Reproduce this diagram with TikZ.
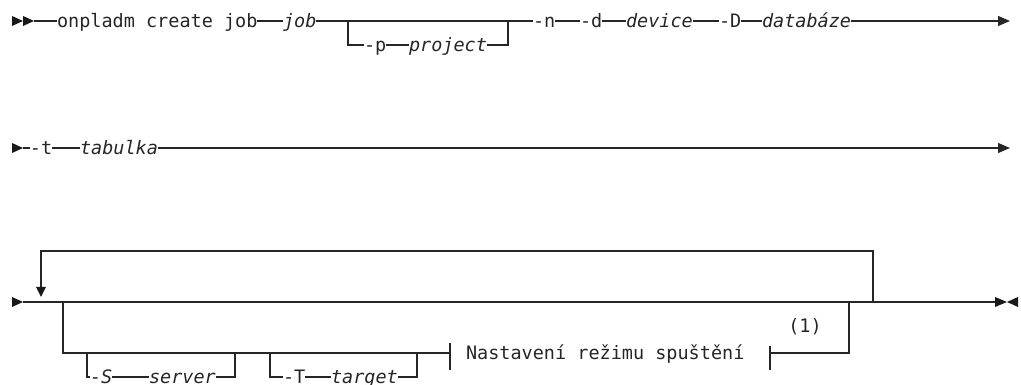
\documentclass[tikz,border=0pt]{standalone}
\usepackage{fontspec}
\newfontfamily\dm{DejaVu Sans Mono}
\usetikzlibrary{arrows.meta}
\tikzset{
  lbl/.style={inner sep=0pt, outer sep=0pt, anchor=west, text height=13pt, text depth=0pt, font=\dm\fontsize{18.5}{22}\selectfont, text=black!85},
  var/.style={lbl, font=\dm\fontsize{18.5}{22}\selectfont\itshape},
  ln/.style={line width=1.1pt, draw=black!85},
  mk/.style={fill=black!90},
  tip/.style={-{Triangle[length=12pt,width=10pt]}}
}
\begin{document}
\begin{tikzpicture}[x=1pt,y=1pt]
\useasboundingbox (0,0) rectangle (1021,385);
% ---------- row 1 ----------
\fill[mk] (12,369)--(23,364)--(12,359)--cycle;
\fill[mk] (23,369)--(34,364)--(23,359)--cycle;
\coordinate (s1) at (34,364);
\node[lbl] (cmd) at (57,364) {onpladm create job};
\node[var] (job) at (283,364) {job};
\coordinate (b1l) at (348,364);
\coordinate (b1r) at (508,364);
\coordinate (b1ld) at (348,340);
\coordinate (b1rd) at (508,340);
\node[lbl] (p) at (364,340) {-p};
\node[var] (proj) at (409,340) {project};
\node[lbl] (n) at (533,364) {-n};
\node[lbl] (d) at (580,364) {-d};
\node[var] (dev) at (626,364) {device};
\node[lbl] (D) at (719,364) {-D};
\node[var] (db) at (762,364) {databáze};
\coordinate (e1) at (1010,364);
\draw[ln] (s1) -- (cmd.west);
\draw[ln] (cmd.east) -- (job.west);
\draw[ln] (job.east) -- (b1l) -- (b1r) -- (n.west);
\draw[ln] (b1l) -- (b1ld) -- (p.west);
\draw[ln] (p.east) -- (proj.west);
\draw[ln] (proj.east) -- (b1rd) -- (b1r);
\draw[ln] (n.east) -- (d.west);
\draw[ln] (d.east) -- (dev.west);
\draw[ln] (dev.east) -- (D.west);
\draw[ln] (D.east) -- (db.west);
\draw[ln,tip] (db.east) -- (e1);
% ---------- row 2 ----------
\fill[mk] (12,242)--(23,237)--(12,232)--cycle;
\coordinate (s2) at (23,237);
\node[lbl] (t) at (30,237) {-t};
\node[var] (tab) at (80,237) {tabulka};
\coordinate (e2) at (1010,237);
\draw[ln] (s2) -- (t.west);
\draw[ln] (t.east) -- (tab.west);
\draw[ln,tip] (tab.east) -- (e2);
% ---------- row 3 ----------
\fill[mk] (12,88)--(23,83)--(12,78)--cycle;
\coordinate (s3) at (23,83);
\coordinate (lpR) at (873,83);
\coordinate (lpLt) at (41,134);
\coordinate (lpRt) at (873,134);
\coordinate (lpLa) at (41,98);
\coordinate (e3) at (995,83);
\draw[ln] (s3) -- (lpR) -- (e3);
\draw[ln] (lpR) -- (lpRt) -- (lpLt) -- (lpLa);
\fill[mk] (36,98)--(46,98)--(41,88)--cycle;
\draw[line width=1.8pt, black!85] (878,82.6) -- (900,82.6);
\fill[mk] (995,88)--(1007,83)--(995,78)--cycle;
\fill[mk] (1018,88)--(1007,83)--(1018,78)--cycle;
% inner group
\coordinate (iL) at (63,83);
\coordinate (iLd) at (63,32);
\coordinate (sL) at (87,32);
\coordinate (sLd) at (87,8);
\node[var] (S) at (90,8) {-S};
\node[var] (srv) at (149,8) {server};
\coordinate (sR) at (235,32);
\coordinate (sRd) at (235,8);
\coordinate (tL) at (270,32);
\coordinate (tLd) at (270,8);
\node[lbl] (T) at (283,8) {-T};
\node[var] (tgt) at (331,8) {target};
\coordinate (tR) at (417,32);
\coordinate (tRd) at (417,8);
\coordinate (bar1) at (450,32);
\node[lbl] (nast) at (466,32) {Nastavení režimu spuštění};
\coordinate (bar2) at (770,32);
\coordinate (iR) at (849,32);
\coordinate (iRu) at (849,83);
\node[inner sep=0pt, font=\dm\fontsize{18.5}{22}\selectfont, text=black!85] (fn) at (805,58) {(1)};
\draw[ln] (iL) -- (iLd) -- (bar1);
\draw[ln] (sL) -- (sLd) -- (S.west);
\draw[ln] (S.east) -- (srv.west);
\draw[ln] (srv.east) -- (sRd) -- (sR);
\draw[ln] (tL) -- (tLd) -- (T.west);
\draw[ln] (T.east) -- (tgt.west);
\draw[ln] (tgt.east) -- (tRd) -- (tR);
\draw[ln] (450,42) -- (450,15);
\draw[ln] (770,39) -- (770,15);
\draw[ln] (bar2) -- (iR) -- (iRu);
\end{tikzpicture}
\end{document}
